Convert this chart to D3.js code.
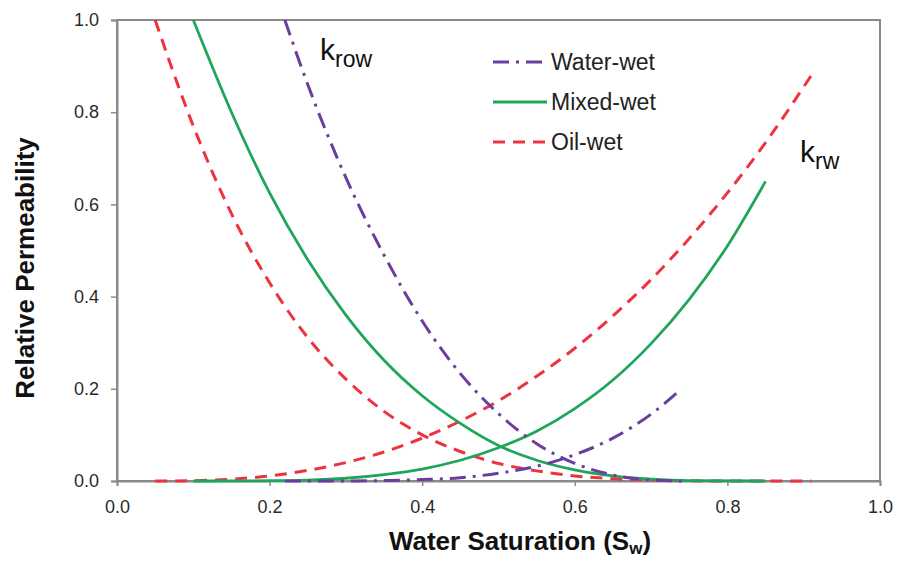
<!doctype html>
<html lang="en">
<head>
<meta charset="utf-8">
<title>Relative Permeability</title>
<script src="https://cdn.jsdelivr.net/npm/d3@7"></script>
<style>
body { margin:0; background:#fff; }
svg { font-family: "Liberation Sans", Arial, sans-serif; }
</style>
</head>
<body>
<svg id="chart" width="898" height="561"></svg>
<script>
// values: [Sw, kr]
var waterWetKrow = [[0.22,1.0],[0.25,0.86],[0.30,0.658],[0.35,0.49],[0.40,0.347],[0.45,0.233],[0.50,0.146],[0.55,0.081],[0.60,0.038],[0.65,0.013],[0.70,0.002],[0.74,0.0]];
var waterWetKrw = [[0.22,0.0],[0.30,0.0001],[0.35,0.001],[0.40,0.003],[0.45,0.007],[0.50,0.017],[0.55,0.032],[0.60,0.057],[0.65,0.093],[0.70,0.145],[0.74,0.2]];
var mixedWetKrow = [[0.10,1.0],[0.15,0.80],[0.20,0.625],[0.25,0.48],[0.30,0.36],[0.35,0.262],[0.40,0.185],[0.45,0.125],[0.50,0.077],[0.55,0.045],[0.60,0.024],[0.65,0.011],[0.70,0.004],[0.75,0.001],[0.85,0.0]];
var mixedWetKrw = [[0.10,0.0],[0.20,0.0006],[0.25,0.002],[0.30,0.006],[0.35,0.014],[0.40,0.026],[0.45,0.045],[0.50,0.072],[0.55,0.108],[0.60,0.157],[0.65,0.219],[0.70,0.298],[0.75,0.394],[0.80,0.51],[0.85,0.65]];
var oilWetKrow = [[0.05,1.0],[0.10,0.77],[0.15,0.58],[0.20,0.43],[0.25,0.311],[0.30,0.221],[0.35,0.151],[0.40,0.10],[0.45,0.064],[0.50,0.038],[0.55,0.022],[0.60,0.011],[0.65,0.005],[0.70,0.002],[0.80,0.0],[0.91,0.0]];
var oilWetKrw = [[0.05,0.0],[0.10,0.0007],[0.15,0.004],[0.20,0.011],[0.25,0.023],[0.30,0.04],[0.35,0.063],[0.40,0.093],[0.45,0.13],[0.50,0.174],[0.55,0.227],[0.60,0.288],[0.65,0.358],[0.70,0.437],[0.75,0.526],[0.80,0.625],[0.85,0.734],[0.91,0.88]];
var xTicks = [0, 0.2, 0.4, 0.6, 0.8, 1.0];
var yTicks = [0, 0.2, 0.4, 0.6, 0.8, 1.0];
var legendNames = ["Water-wet", "Mixed-wet", "Oil-wet"];

var svg = d3.select("#chart");
var x = d3.scaleLinear().domain([0, 1]).range([117, 880]);
var y = d3.scaleLinear().domain([0, 1]).range([481, 20]);

var styles = {
	"Water-wet": { color: "#6a3d9f", dash: "16,7,3,7", width: 3 },
	"Mixed-wet": { color: "#1fa65a", dash: null, width: 2.8 },
	"Oil-wet": { color: "#ec3340", dash: "12,8", width: 3 }
};

// frame
svg.append("rect").attr("x", 117).attr("y", 20).attr("width", 763).attr("height", 461)
	.attr("fill", "none").attr("stroke", "#8a8a8a").attr("stroke-width", 2);

var xAxis = d3.axisBottom(x).tickValues(xTicks).tickFormat(d3.format(".1f")).tickSize(5).tickPadding(14);
var gx = svg.append("g").attr("transform", "translate(0,481)").call(xAxis);
var yAxis = d3.axisLeft(y).tickValues(yTicks).tickFormat(d3.format(".1f")).tickSize(6).tickPadding(12);
var gy = svg.append("g").attr("transform", "translate(117,0)").call(yAxis);
[gx, gy].forEach(function(g) {
	g.select(".domain").attr("stroke", "#8a8a8a").attr("stroke-width", 2);
	g.selectAll(".tick line").attr("stroke", "#8a8a8a").attr("stroke-width", 1.5);
	g.selectAll(".tick text").attr("fill", "#2a2a2a").style("font-size", "18px");
});

var line = d3.line()
	.x(function(d) { return x(d[0]); })
	.y(function(d) { return y(d[1]); })
	.curve(d3.curveMonotoneX);

var curves = [
	["Oil-wet", oilWetKrow], ["Oil-wet", oilWetKrw],
	["Mixed-wet", mixedWetKrow], ["Mixed-wet", mixedWetKrw],
	["Water-wet", waterWetKrow], ["Water-wet", waterWetKrw]
];
curves.forEach(function(c) {
	var s = styles[c[0]];
	svg.append("path")
		.attr("d", line(c[1]))
		.attr("fill", "none")
		.attr("stroke", s.color)
		.attr("stroke-width", s.width)
		.attr("stroke-dasharray", s.dash);
});

// legend
legendNames.forEach(function(n, i) {
	var s = styles[n];
	var ly = 62 + i * 40;
	svg.append("line").attr("x1", 493).attr("x2", 547).attr("y1", ly).attr("y2", ly)
		.attr("stroke", s.color).attr("stroke-width", s.width).attr("stroke-dasharray", s.dash);
	svg.append("text").attr("x", 551).attr("y", ly + 8).text(n)
		.style("font-size", "23px").attr("fill", "#222");
});

// curve labels
var k1 = svg.append("text").attr("x", 320).attr("y", 60).style("font-size", "30px").attr("fill", "#111");
k1.append("tspan").text("k");
k1.append("tspan").attr("dy", 7).style("font-size", "23px").text("row");
var k2 = svg.append("text").attr("x", 800).attr("y", 162).style("font-size", "30px").attr("fill", "#111");
k2.append("tspan").text("k");
k2.append("tspan").attr("dy", 7).style("font-size", "23px").text("rw");

// axis titles
var xt = svg.append("text").attr("x", 520).attr("y", 550).attr("text-anchor", "middle")
	.style("font-size", "26px").style("font-weight", "bold").attr("fill", "#111");
xt.append("tspan").text("Water Saturation (S");
xt.append("tspan").attr("dy", 4).style("font-size", "17px").text("w");
xt.append("tspan").attr("dy", -4).text(")");
svg.append("text").attr("transform", "translate(34,268) rotate(-90)").attr("text-anchor", "middle")
	.style("font-size", "26px").style("font-weight", "bold").attr("fill", "#111")
	.text("Relative Permeability");
</script>
</body>
</html>
